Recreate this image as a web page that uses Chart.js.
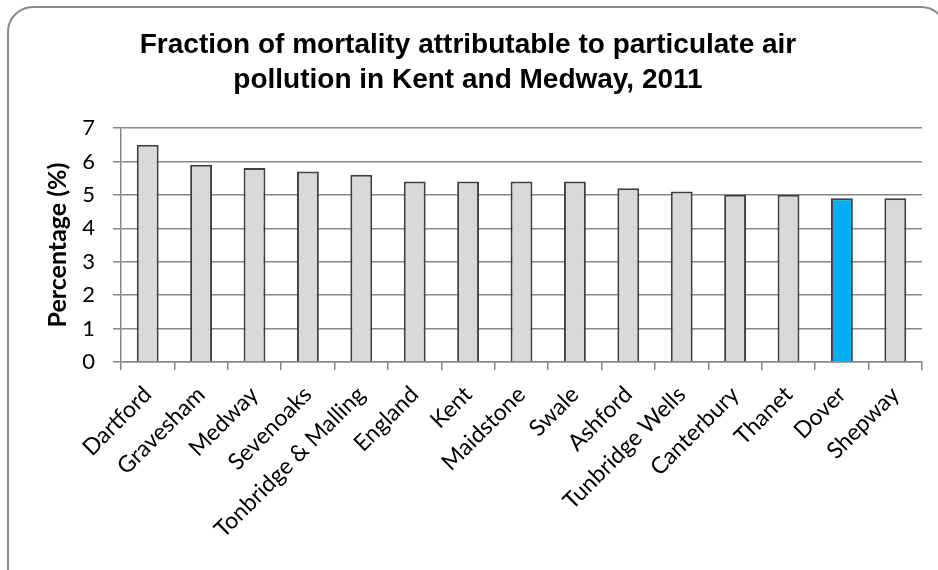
<!DOCTYPE html>
<html>
<head>
<meta charset="utf-8">
<script src="https://cdn.jsdelivr.net/npm/chart.js@4.4.0/dist/chart.umd.min.js"></script>
<style>
  html, body { margin: 0; padding: 0; background: #fff; }
  body { width: 938px; height: 570px; position: relative; overflow: hidden; }
  #frame {
    position: absolute; left: 7px; top: 6px; width: 940px; height: 600px;
    border: 2px solid #8a8a8a; border-radius: 26px; box-sizing: border-box;
  }
  #wrap { position: absolute; left: 0; top: 0; width: 938px; height: 570px; }
</style>
</head>
<body>
<div id="frame"></div>
<div id="wrap"><canvas id="mortalityChart"></canvas></div>
<script>
const areas = ['Dartford', 'Gravesham', 'Medway', 'Sevenoaks', 'Tonbridge & Malling', 'England',
    'Kent', 'Maidstone', 'Swale', 'Ashford', 'Tunbridge Wells', 'Canterbury', 'Thanet', 'Dover', 'Shepway'];
const percentages = [6.5, 5.9, 5.8, 5.7, 5.6, 5.4, 5.4, 5.4, 5.4, 5.2, 5.1, 5.0, 5.0, 4.9, 4.9];
const highlighted = 'Dover';
const yTicks = [0, 1, 2, 3, 4, 5, 6, 7];

const gridColour = '#878787';
const bodyFont = 'Lato, "Open Sans", sans-serif';

const ctx = document.getElementById('mortalityChart').getContext('2d');
const mortalityChart = new Chart(ctx, {
    type: 'bar',
    data: {
        labels: areas,
        datasets: [{
            label: 'Percentage (%)',
            data: percentages,
            backgroundColor: areas.map(a => a === highlighted ? '#00b0f0' : '#d9d9d9'),
            borderColor: '#404040',
            borderWidth: 2,
            barPercentage: 0.82,
            categoryPercentage: 0.5
        }]
    },
    options: {
        responsive: true,
        maintainAspectRatio: false,
        animation: false,
        layout: { padding: { left: 14, right: 16, top: 20, bottom: 0 } },
        plugins: {
            legend: { display: false },
            tooltip: { enabled: false },
            title: {
                display: true,
                text: ['Fraction of mortality attributable to particulate air',
                       'pollution in Kent and Medway, 2011'],
                color: '#000',
                font: { family: '"Liberation Sans", Arial, sans-serif', size: 28, weight: 'bold', lineHeight: 1.25 },
                padding: { top: 8, bottom: 30 }
            }
        },
        scales: {
            x: {
                grid: { display: true, drawOnChartArea: false, color: gridColour, lineWidth: 1.5, tickLength: 8, offset: true },
                border: { color: gridColour, width: 1.5 },
                ticks: {
                    color: '#000',
                    font: { family: bodyFont, size: 23 },
                    minRotation: 45,
                    maxRotation: 45,
                    autoSkip: false,
                    padding: 11
                },
                afterFit: s => { s.height = 208; }
            },
            y: {
                min: 0,
                max: 7,
                afterBuildTicks: s => { s.ticks = yTicks.map(v => ({ value: v })); },
                grid: { color: gridColour, lineWidth: 1.5, tickLength: 8 },
                border: { color: gridColour, width: 1.5 },
                ticks: {
                    color: '#000',
                    font: { family: bodyFont, size: 22 },
                    padding: 18
                },
                title: {
                    display: true,
                    text: 'Percentage (%)',
                    color: '#000',
                    font: { family: bodyFont, size: 25, weight: 'bold' },
                    padding: { top: 29, bottom: 4 }
                },
                afterFit: s => { s.width = 107; }
            }
        }
    }
});
</script>
</body>
</html>
